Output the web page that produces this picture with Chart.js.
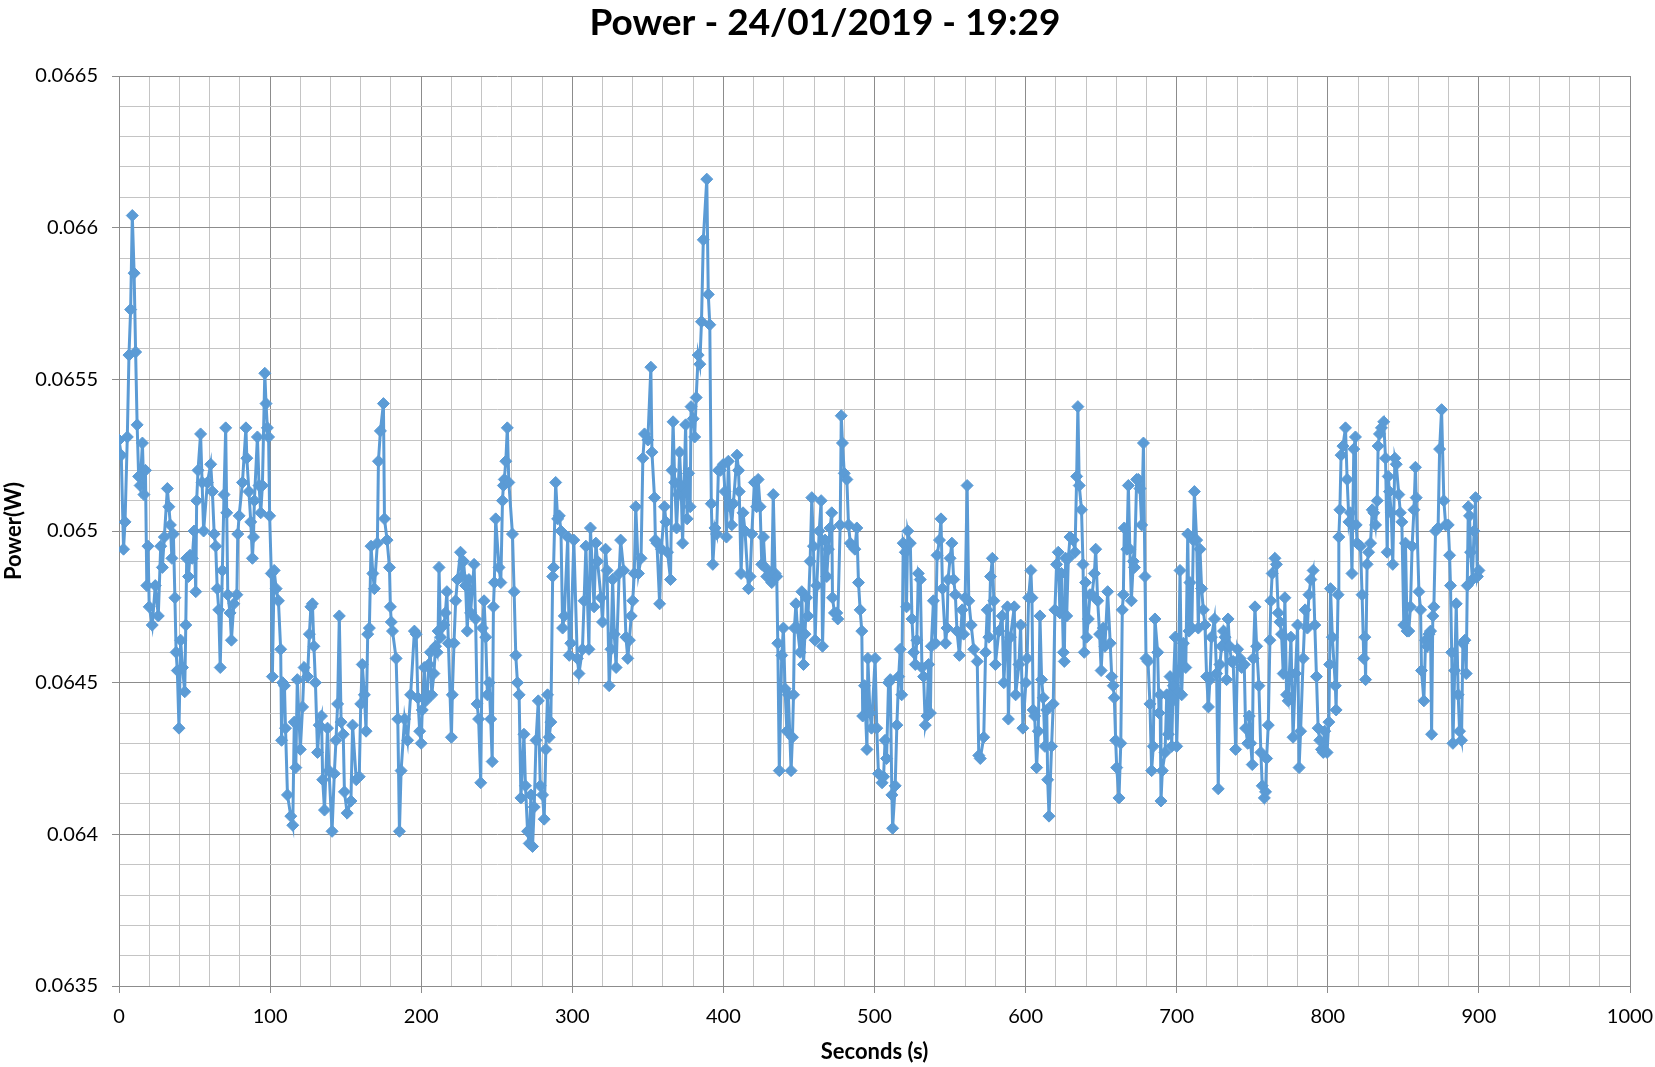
<!DOCTYPE html>
<html>
<head>
<meta charset="utf-8">
<script src="https://cdn.jsdelivr.net/npm/chart.js@4.4.1/dist/chart.umd.min.js"></script>
<style>
  html, body { margin: 0; padding: 0; background: #fff; }
</style>
</head>
<body>
<canvas id="power_chart" width="1655" height="1067"></canvas>
<script>
const chartTitle = 'Power - 24/01/2019 - 19:29';
const xAxisTitle = 'Seconds (s)';
const yAxisTitle = 'Power(W)';

// time of each reading (s)
const seconds = [
  0,1.5,3,4,5.5,6.6,7.7,8.8,10,11,
  12,13,14,15.5,16.5,17.5,18.4,19.2,20,22,
  24,26,27.6,28.7,30,32,33,34,35,36,
  37,37.8,38.6,39.7,40.8,42,43.5,44.2,44.8,46,
  47,48.5,49.7,50.8,51.4,52.3,54,55,56,58.5,
  60.7,61.8,63,64,65,66,67,68.4,69.5,70.6,
  71.3,72,73.5,74.4,76,78,78.6,79.5,81.7,84,
  84.6,86,87.2,88.3,89,89.6,91.6,92.7,93.8,94.9,
  96.5,97.3,98.2,99,99.7,100.8,101.5,102.7,104,105.5,
  107,107.6,108.3,109.5,110.2,111.5,113.7,115,116,117,
  118,120,121.5,122.5,124.8,126,127,128,129,130,
  131.4,132.5,134,134.8,136,138,139,141,142.5,143.6,
  144.7,145.8,147,148.4,149.2,151,153.5,154.6,157,159,
  160,161,162.4,163.5,164.6,165.7,166.8,168,169,171,
  171.7,173,175,175.7,177.4,179,179.6,180.2,181,183.4,
  184.5,185.6,186.7,189,191,193,195.5,196.7,197.8,199,
  200,200.7,202,203,204,205,206,207,208.4,209.5,
  210.6,211.2,211.8,212.8,215,216,217,218,220,220.6,
  221.7,222.8,224,226,227,228,229.4,230.5,231.6,232.7,
  235,236,237,238,239.4,240.5,241.6,242.7,243.8,245,
  246,247,247.8,248.4,249.3,251.5,252.7,253.8,254.4,255,
  256,257,258,260.4,261.5,262.6,263.7,264.8,266,268,
  269,270.4,271.5,272.6,273.7,274.8,276,277.5,278.8,280.3,
  281.4,282.5,283.6,284.7,285.8,287,287.6,289,290.3,291.4,
  292.5,293.6,294.7,297,298,299,301,303.3,304.4,306.7,
  307.8,309,311,312,314.4,315.6,316.7,319,320,322,
  323,324.4,325.6,326.7,327.8,329,331,332,334,335.5,
  336.7,337.8,339,340,341,342,343.8,345.5,346.7,347.8,
  350,352,352.7,354.4,355,356,357.8,359,361,362,
  363,365,366,366.7,367.8,369,370,371,372,373,
  375,376,377,378,378.6,380,381,382,383.3,384.4,
  385.5,386.7,389,390,391,392,393,394.4,395.5,396.7,
  398,400,401,402,403.3,404.4,405.5,406.6,409,410,
  410.5,411.7,413,414.3,416.6,417.7,418.8,420.5,422,423,
  424.3,425.4,426.5,427.6,428.7,431,432,433,434.2,435.3,
  436,437,438.6,439.7,440.8,442,443,444.8,445.7,446.4,
  447,448,449,450.8,451.9,453,454,455,456,457.4,
  458.5,459.6,460.7,461.8,463.4,464.7,465.6,467.3,468.4,469.5,
  470.6,471.7,472.2,473.5,475,475.7,477.3,478,478.8,480,
  481.7,482.8,484,485.4,487,488.3,489.4,490.5,491.6,492.2,
  493.4,495,495.6,497,498,500.4,501.5,502.6,505,506,
  507,508,509.3,510.4,511.5,512,513.7,514.8,516,517,
  518,519,520.4,521.2,522,523.7,524.8,525.9,527,528,
  529,530.3,531.4,532.5,533.6,534.7,535.8,537,537.6,539,
  540.3,541.4,543,544,545,547,548,548.7,550,551.2,
  552.4,553.5,554.6,556.2,558,559,560,561.3,562.4,564,
  565.7,568,569,570,572.3,573.5,574.6,575.7,576.8,578,
  579,580,582.3,584.5,585.6,588,588.6,590,592.5,593.4,
  595.6,596.7,598.2,600.2,601,602,603.5,604.2,605,606,
  607.3,608.4,609.5,610.6,611.7,612.8,614,614.6,615.5,617.2,
  618.3,619.4,620.5,621.6,622.7,623.8,625,625.6,626.5,627.2,
  628.3,629.4,631.5,632.7,633.8,634.6,635.5,637,638,638.8,
  639.7,640.4,641.5,642.6,644,645.5,646.4,647.7,649,650,
  651.4,652.5,654.3,656,657,658,658.7,659.6,660.3,661.8,
  663,664,664.7,665.3,667,668,669,670,671.3,672,
  673.5,674.6,675.7,676.8,678,679,679.7,681,682.3,683.4,
  684.5,685.6,687.4,688.3,689,689.6,690.5,692.3,693.4,694.5,
  695.6,696.7,697.4,697.8,699,700,701,702.2,703.3,704.4,
  706,707.3,708.2,708.8,710,711,711.7,713.2,714.3,715.4,
  716.5,717.6,718.7,719.8,721,722,723,725,726.4,727.5,
  728.6,729.7,731,732,733,734,735,736.3,737.4,739,
  740.3,741.9,743,744.7,745.6,747,748,749,750,750.7,
  751.8,752.9,754.4,755.7,756.6,758,758.8,759.5,760.6,761.7,
  762.3,763.2,765,766,767.2,768.3,769.4,770.5,771.6,772.7,
  773.8,775.6,777,778.6,780,781,782,783.7,785,786.5,
  787.5,788.8,790.3,791.4,792.5,793.6,794.7,795.8,797,798,
  799.5,800.7,801.2,801.8,803,805,805.5,806.8,807.3,808,
  808.8,810,811.7,812.8,814,815,816,817.2,818.3,818.8,
  819.4,821.6,822.7,823.8,824.5,825,826,827,828.3,829.4,
  830.5,831.6,832.7,833.3,834.2,835.5,837,838.2,839.3,840,
  840.8,842,843,844.4,845.3,847,848,849,850.3,851.4,
  852.5,853.6,854.7,855.8,857,858,858.5,860.3,861.4,862,
  863.6,864.7,865.8,867,868,868.7,869.5,870.2,871.3,873,
  874,875.3,876.8,878,879.7,880.6,881.2,882,882.8,884,
  885,886.3,887.2,888.5,889.4,890.7,891.6,892.3,893,893.8,
  894.5,895.7,896.8,897.8,899,900
];

// measured power (W), same order as seconds
const power = [
  0.06530,0.06525,0.06494,0.06503,0.06531,0.06558,0.06573,0.06604,0.06585,0.06559,
  0.06535,0.06518,0.06515,0.06529,0.06512,0.06520,0.06482,0.06495,0.06475,0.06469,
  0.06482,0.06472,0.06495,0.06488,0.06498,0.06514,0.06508,0.06502,0.06491,0.06499,
  0.06478,0.06460,0.06454,0.06435,0.06464,0.06455,0.06447,0.06469,0.06491,0.06485,
  0.06492,0.06491,0.06500,0.06480,0.06510,0.06520,0.06532,0.06516,0.06500,0.06516,
  0.06522,0.06513,0.06499,0.06495,0.06481,0.06474,0.06455,0.06487,0.06512,0.06534,
  0.06506,0.06479,0.06473,0.06464,0.06476,0.06479,0.06499,0.06505,0.06516,0.06534,
  0.06524,0.06513,0.06503,0.06491,0.06498,0.06510,0.06531,0.06515,0.06506,0.06515,
  0.06552,0.06542,0.06534,0.06531,0.06505,0.06486,0.06452,0.06487,0.06481,0.06477,
  0.06461,0.06431,0.06450,0.06449,0.06435,0.06413,0.06406,0.06403,0.06437,0.06422,
  0.06451,0.06428,0.06442,0.06455,0.06452,0.06466,0.06475,0.06476,0.06462,0.06450,
  0.06427,0.06436,0.06439,0.06418,0.06408,0.06435,0.06421,0.06401,0.06420,0.06431,
  0.06443,0.06472,0.06437,0.06433,0.06414,0.06407,0.06411,0.06436,0.06418,0.06419,
  0.06443,0.06456,0.06446,0.06434,0.06466,0.06468,0.06495,0.06486,0.06481,0.06496,
  0.06523,0.06533,0.06542,0.06504,0.06497,0.06488,0.06475,0.06470,0.06467,0.06458,
  0.06438,0.06401,0.06421,0.06438,0.06431,0.06446,0.06467,0.06466,0.06445,0.06434,
  0.06430,0.06441,0.06455,0.06444,0.06446,0.06456,0.06460,0.06446,0.06453,0.06462,
  0.06460,0.06467,0.06488,0.06465,0.06469,0.06473,0.06480,0.06463,0.06432,0.06446,
  0.06463,0.06477,0.06484,0.06493,0.06485,0.06490,0.06482,0.06467,0.06484,0.06473,
  0.06489,0.06471,0.06443,0.06438,0.06417,0.06468,0.06477,0.06465,0.06446,0.06450,
  0.06438,0.06424,0.06475,0.06483,0.06504,0.06488,0.06483,0.06510,0.06515,0.06517,
  0.06523,0.06534,0.06516,0.06499,0.06480,0.06459,0.06450,0.06446,0.06412,0.06433,
  0.06416,0.06401,0.06397,0.06413,0.06396,0.06409,0.06431,0.06444,0.06416,0.06413,
  0.06405,0.06428,0.06446,0.06432,0.06437,0.06485,0.06488,0.06516,0.06504,0.06505,
  0.06500,0.06468,0.06472,0.06498,0.06459,0.06463,0.06497,0.06458,0.06453,0.06461,
  0.06477,0.06495,0.06461,0.06501,0.06475,0.06496,0.06490,0.06478,0.06470,0.06494,
  0.06487,0.06449,0.06461,0.06484,0.06466,0.06455,0.06486,0.06497,0.06487,0.06465,
  0.06458,0.06464,0.06472,0.06477,0.06486,0.06508,0.06486,0.06491,0.06524,0.06532,
  0.06530,0.06554,0.06526,0.06511,0.06497,0.06496,0.06476,0.06494,0.06508,0.06503,
  0.06493,0.06484,0.06520,0.06536,0.06516,0.06501,0.06512,0.06526,0.06515,0.06496,
  0.06535,0.06504,0.06519,0.06508,0.06541,0.06537,0.06531,0.06544,0.06558,0.06555,
  0.06569,0.06596,0.06616,0.06578,0.06568,0.06509,0.06489,0.06501,0.06499,0.06520,
  0.06520,0.06522,0.06513,0.06498,0.06523,0.06508,0.06502,0.06509,0.06525,0.06520,
  0.06513,0.06486,0.06506,0.06500,0.06481,0.06485,0.06499,0.06516,0.06508,0.06517,
  0.06508,0.06489,0.06498,0.06488,0.06485,0.06486,0.06483,0.06512,0.06486,0.06485,
  0.06463,0.06421,0.06459,0.06468,0.06448,0.06434,0.06446,0.06421,0.06432,0.06446,
  0.06468,0.06476,0.06468,0.06460,0.06480,0.06456,0.06466,0.06478,0.06472,0.06490,
  0.06511,0.06495,0.06464,0.06482,0.06500,0.06510,0.06462,0.06497,0.06485,0.06494,
  0.06501,0.06506,0.06478,0.06473,0.06473,0.06471,0.06502,0.06538,0.06529,0.06519,
  0.06517,0.06502,0.06496,0.06495,0.06494,0.06501,0.06483,0.06474,0.06467,0.06439,
  0.06449,0.06428,0.06458,0.06440,0.06435,0.06458,0.06435,0.06420,0.06417,0.06419,
  0.06431,0.06425,0.06450,0.06451,0.06413,0.06402,0.06416,0.06436,0.06452,0.06461,
  0.06446,0.06496,0.06493,0.06475,0.06500,0.06496,0.06471,0.06460,0.06456,0.06464,
  0.06486,0.06484,0.06455,0.06452,0.06436,0.06439,0.06456,0.06440,0.06462,0.06477,
  0.06463,0.06492,0.06497,0.06504,0.06481,0.06463,0.06468,0.06484,0.06491,0.06496,
  0.06484,0.06479,0.06467,0.06459,0.06474,0.06466,0.06478,0.06515,0.06477,0.06469,
  0.06461,0.06457,0.06426,0.06425,0.06432,0.06460,0.06474,0.06465,0.06485,0.06491,
  0.06477,0.06456,0.06467,0.06472,0.06450,0.06475,0.06438,0.06465,0.06475,0.06446,
  0.06456,0.06469,0.06435,0.06450,0.06458,0.06478,0.06487,0.06478,0.06441,0.06439,
  0.06422,0.06434,0.06472,0.06451,0.06445,0.06429,0.06441,0.06418,0.06406,0.06429,
  0.06443,0.06474,0.06489,0.06493,0.06473,0.06486,0.06460,0.06457,0.06491,0.06472,
  0.06491,0.06498,0.06497,0.06493,0.06518,0.06541,0.06515,0.06507,0.06489,0.06460,
  0.06483,0.06465,0.06471,0.06479,0.06479,0.06486,0.06494,0.06477,0.06466,0.06454,
  0.06468,0.06462,0.06480,0.06463,0.06452,0.06449,0.06445,0.06431,0.06422,0.06412,
  0.06430,0.06474,0.06479,0.06501,0.06494,0.06515,0.06494,0.06477,0.06490,0.06488,
  0.06517,0.06517,0.06514,0.06502,0.06529,0.06485,0.06458,0.06457,0.06443,0.06421,
  0.06429,0.06471,0.06460,0.06440,0.06446,0.06411,0.06421,0.06427,0.06446,0.06433,
  0.06452,0.06429,0.06444,0.06449,0.06465,0.06429,0.06447,0.06487,0.06446,0.06463,
  0.06455,0.06499,0.06467,0.06483,0.06468,0.06497,0.06513,0.06497,0.06468,0.06494,
  0.06481,0.06474,0.06469,0.06452,0.06442,0.06451,0.06465,0.06471,0.06453,0.06415,
  0.06456,0.06462,0.06467,0.06465,0.06451,0.06471,0.06462,0.06457,0.06457,0.06428,
  0.06461,0.06458,0.06455,0.06456,0.06435,0.06430,0.06439,0.06430,0.06423,0.06458,
  0.06475,0.06462,0.06449,0.06427,0.06416,0.06412,0.06414,0.06425,0.06436,0.06464,
  0.06477,0.06486,0.06491,0.06489,0.06473,0.06470,0.06466,0.06453,0.06478,0.06446,
  0.06444,0.06465,0.06432,0.06453,0.06469,0.06422,0.06434,0.06458,0.06474,0.06468,
  0.06479,0.06484,0.06487,0.06469,0.06452,0.06435,0.06431,0.06428,0.06427,0.06434,
  0.06427,0.06437,0.06456,0.06481,0.06465,0.06449,0.06441,0.06479,0.06498,0.06507,
  0.06525,0.06528,0.06534,0.06517,0.06503,0.06506,0.06486,0.06527,0.06531,0.06502,
  0.06496,0.06495,0.06479,0.06458,0.06465,0.06451,0.06489,0.06493,0.06496,0.06507,
  0.06506,0.06502,0.06510,0.06528,0.06532,0.06534,0.06536,0.06524,0.06493,0.06518,
  0.06513,0.06506,0.06489,0.06524,0.06522,0.06512,0.06506,0.06503,0.06469,0.06496,
  0.06467,0.06467,0.06475,0.06495,0.06507,0.06521,0.06511,0.06480,0.06474,0.06454,
  0.06444,0.06464,0.06462,0.06466,0.06467,0.06433,0.06472,0.06475,0.06500,0.06501,
  0.06527,0.06540,0.06510,0.06502,0.06502,0.06492,0.06482,0.06460,0.06430,0.06454,
  0.06476,0.06446,0.06434,0.06431,0.06463,0.06464,0.06453,0.06482,0.06508,0.06505,
  0.06493,0.06484,0.06500,0.06511,0.06485,0.06487
];

const xMin = 0, xMax = 1000, xStep = 20, xMajor = 100;
const yMin = 0.0635, yMax = 0.0665, yStep = 0.0001;

const seriesColor = '#5B9BD5';
const majorGrid = '#8c8c8c';
const minorGrid = '#c4c4c4';
const fontFamily = 'Lato, "Open Sans", sans-serif';

if (seconds.length !== power.length) console.log('length mismatch', seconds.length, power.length);

const points = seconds.map((s, i) => ({ x: s, y: power[i] }));

function isMajorX(v) { return Math.round(v) % xMajor === 0; }
function isMajorY(v) { return Math.round(v * 10000) % 5 === 0; }

const ctx = document.getElementById('power_chart').getContext('2d');
const chart = new Chart(ctx, {
    type: 'scatter',
    data: {
        datasets: [{
            label: 'Power',
            data: points,
            showLine: true,
            borderColor: seriesColor,
            backgroundColor: seriesColor,
            borderWidth: 3,
            tension: 0,
            pointStyle: 'rectRot',
            pointRadius: 6,
            pointBorderWidth: 1,
            pointBackgroundColor: seriesColor,
            pointBorderColor: seriesColor
        }]
    },
    options: {
        responsive: false,
        animation: false,
        devicePixelRatio: 1,
        layout: { padding: { left: 20, right: 25, top: 0, bottom: 0 } },
        plugins: {
            legend: { display: false },
            tooltip: { enabled: false },
            title: {
                display: true,
                text: chartTitle,
                color: '#000',
                font: { family: fontFamily, size: 37, weight: 'bold', lineHeight: 1.2 },
                padding: { top: 1, bottom: 30.6 }
            }
        },
        scales: {
            x: {
                type: 'linear',
                min: xMin,
                max: xMax,
                afterFit: scale => {
                    scale.height = 81;
                    scale.paddingRight = 0;
                },
                ticks: {
                    stepSize: xStep,
                    autoSkip: false,
                    maxRotation: 0,
                    padding: 12,
                    color: '#000',
                    font: { family: fontFamily, size: 20 },
                    callback: v => isMajorX(v) ? String(v) : ''
                },
                grid: {
                    color: c => isMajorX(c.tick.value) ? majorGrid : minorGrid,
                    tickColor: c => isMajorX(c.tick.value) ? majorGrid : 'rgba(0,0,0,0)',
                    tickLength: 7,
                    lineWidth: 1
                },
                border: { color: majorGrid },
                title: {
                    display: true,
                    text: xAxisTitle,
                    color: '#000',
                    font: { family: fontFamily, size: 22, weight: 'bold', lineHeight: 1.2 },
                    padding: { top: 0, bottom: 2 }
                }
            },
            y: {
                type: 'linear',
                min: yMin,
                max: yMax,
                afterFit: scale => { scale.width = 99; },
                ticks: {
                    stepSize: yStep,
                    autoSkip: false,
                    padding: 14,
                    color: '#000',
                    font: { family: fontFamily, size: 20 },
                    callback: v => isMajorY(v) ? String(+v.toFixed(4)) : ''
                },
                grid: {
                    color: c => isMajorY(c.tick.value) ? majorGrid : minorGrid,
                    tickColor: c => isMajorY(c.tick.value) ? majorGrid : 'rgba(0,0,0,0)',
                    tickLength: 7,
                    lineWidth: 1
                },
                border: { color: majorGrid },
                title: {
                    display: true,
                    text: yAxisTitle,
                    color: '#000',
                    font: { family: fontFamily, size: 22, weight: 'bold', lineHeight: 1.2 },
                    padding: { top: -19, bottom: 0 }
                }
            }
        }
    }
});
</script>
</body>
</html>
